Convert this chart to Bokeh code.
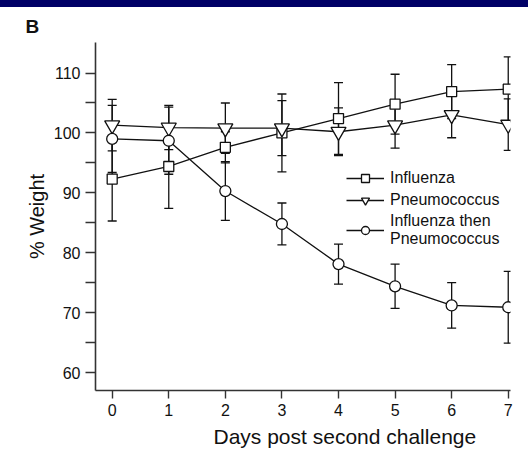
from bokeh.plotting import figure
from bokeh.models import (ColumnDataSource, Whisker, TeeHead, FixedTicker, Legend,
                          LegendItem, Title, Div, Range1d)
from bokeh.layouts import column
from bokeh.embed import file_html
from bokeh.resources import INLINE

# Body weight (% of starting weight) after the second challenge, mean +/- SD
days = [0, 1, 2, 3, 4, 5, 6, 7]
influenza = [92.3, 94.4, 97.6, 100.0, 102.4, 104.8, 106.9, 107.3]
influenza_err = [7.0, 7.0, 2.6, 6.5, 6.0, 5.0, 4.5, 5.4]
pneumococcus = [101.3, 100.9, 100.8, 100.8, 100.2, 101.3, 103.0, 101.4]
pneumococcus_err = [4.3, 3.7, 4.2, 4.6, 4.0, 3.85, 3.8, 4.3]
flu_then_pneumo = [99.0, 98.7, 90.3, 84.8, 78.1, 74.4, 71.2, 70.9]
flu_then_pneumo_err = [5.6, 5.6, 4.9, 3.5, 3.35, 3.7, 3.8, 6.0]

y_ticks = [60, 65, 70, 75, 80, 85, 90, 95, 100, 105, 110]
y_labelled = [60, 70, 80, 90, 100, 110]

FONT = "Liberation Sans"
INK = "#111111"

# Navy band across the top
band = Div(text="", width=528, height=7,
           styles={"background-color": "#000066", "margin": "0"})

p = figure(width=528, height=446, output_backend="svg", toolbar_location=None,
           x_range=Range1d(-0.295, 7.04), y_range=Range1d(57.0, 115.1),
           min_border_left=95, min_border_right=18, min_border_top=34,
           min_border_bottom=63, outline_line_color=None,
           background_fill_color="white", border_fill_color="white")
p.grid.visible = False

# Panel letter
p.add_layout(Title(text="B", align="left", offset=-70, text_font=FONT,
                   text_font_size="19px", text_font_style="bold",
                   text_color=INK, standoff=12), "above")

# x axis
xa = p.xaxis[0]
xa.ticker = FixedTicker(ticks=days)
xa.major_tick_out = 8
xa.major_tick_in = 0
xa.minor_tick_out = 0
xa.axis_line_width = 1.6
xa.axis_line_color = "#333333"
xa.major_tick_line_width = 1.4
xa.major_tick_line_color = "#333333"
xa.major_label_text_font = FONT
xa.major_label_text_font_size = "16px"
xa.major_label_text_color = INK
xa.major_label_standoff = 5

# y axis: ticks every 5, labels every 10
ya = p.yaxis[0]
ya.ticker = FixedTicker(ticks=y_ticks)
ya.major_label_overrides = {t: (str(t) if t in y_labelled else "") for t in y_ticks}
ya.major_tick_out = 10
ya.major_tick_in = 0
ya.minor_tick_out = 0
ya.axis_line_width = 1.6
ya.axis_line_color = "#333333"
ya.major_tick_line_width = 1.4
ya.major_tick_line_color = "#333333"
ya.major_label_text_font = FONT
ya.major_label_text_font_size = "16px"
ya.major_label_text_color = INK
ya.major_label_standoff = 5

# y axis title, a little below the frame centre
p.add_layout(Title(text="% Weight", align="center", offset=-12,
                   text_font=FONT, text_font_size="20px",
                   text_font_style="normal", text_color=INK, standoff=6), "left")

# x axis title, set right of centre
p.add_layout(Title(text="Days post second challenge", align="left", offset=118,
                   text_font=FONT, text_font_size="21px",
                   text_font_style="normal", text_color=INK, standoff=8), "below")

series = [
    ("Influenza", influenza, influenza_err, "square", 10),
    ("Pneumococcus", pneumococcus, pneumococcus_err, "inverted_triangle", 15),
    ("Influenza then\nPneumococcus", flu_then_pneumo, flu_then_pneumo_err, "circle", 11),
]

items = []
for name, vals, errs, marker, size in series:
    src = ColumnDataSource(dict(
        day=days, w=vals,
        lo=[v - e for v, e in zip(vals, errs)],
        hi=[v + e for v, e in zip(vals, errs)],
    ))
    wh = Whisker(base="day", upper="hi", lower="lo", source=src, level="underlay",
                 line_color=INK, line_width=1.3,
                 upper_head=TeeHead(size=9, line_color=INK, line_width=1.3),
                 lower_head=TeeHead(size=9, line_color=INK, line_width=1.3))
    p.add_layout(wh)
    ln = p.line("day", "w", source=src, line_color=INK, line_width=1.3)
    mk = p.scatter("day", "w", source=src, marker=marker, size=size,
                   fill_color="white", line_color=INK, line_width=1.3)
    items.append(LegendItem(label=name, renderers=[ln, mk]))

legend = Legend(items=items, location=(251, 142), orientation="vertical",
                glyph_width=38, glyph_height=20, label_height=20, spacing=2,
                label_standoff=6, padding=0, margin=0,
                border_line_color=None, background_fill_alpha=0,
                label_text_font=FONT, label_text_font_size="16px",
                label_text_color=INK, label_text_line_height=1.25)
p.add_layout(legend, "center")

layout = column(band, p, spacing=0)
open("out.html", "w").write(file_html(layout, INLINE))
